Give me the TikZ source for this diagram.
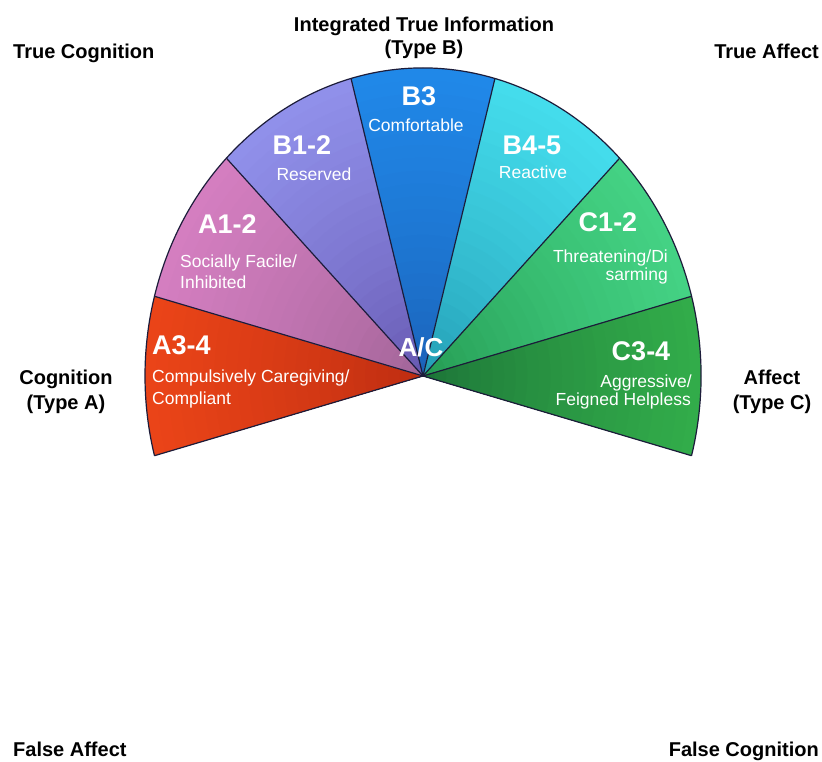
\documentclass[tikz,border=0pt]{standalone}
\usepackage{fontspec}
\setmainfont{Liberation Sans}
\definecolor{edgecol}{HTML}{1C1C3A}
\definecolor{a34i}{HTML}{B82A10}\definecolor{a34o}{HTML}{EA4418}
\definecolor{a12i}{HTML}{9C6294}\definecolor{a12o}{HTML}{D47EC0}
\definecolor{b12i}{HTML}{6252AA}\definecolor{b12o}{HTML}{9090EA}
\definecolor{b3i}{HTML}{1A5EB4}\definecolor{b3o}{HTML}{2088E8}
\definecolor{b45i}{HTML}{2096AE}\definecolor{b45o}{HTML}{44DCEC}
\definecolor{c12i}{HTML}{22964E}\definecolor{c12o}{HTML}{44D284}
\definecolor{c34i}{HTML}{1A6E36}\definecolor{c34o}{HTML}{32AC4A}
\newcommand{\titlefont}{\fontsize{20}{22}\selectfont\bfseries}
\newcommand{\bigfont}{\fontsize{27}{30}\selectfont\bfseries}
\newcommand{\subfont}{\fontsize{17.5}{19}\selectfont}
\begin{document}
\begin{tikzpicture}[x=1pt,y=1pt,
  title/.style={font=\titlefont, text=black, inner sep=0pt},
  big/.style={font=\bigfont, text=white, inner sep=0pt},
  sub/.style={font=\subfont, text=white, inner sep=0pt},
  edge/.style={draw=edgecol, line width=1.2pt, line join=round}]
\useasboundingbox (0,0) rectangle (822,762);
\fill[white] (0,0) rectangle (822,762);
\coordinate (C) at (423,386);
% wedges with radial gradient
\foreach \s/\ci/\co in {165/a34i/a34o,135/a12i/a12o,105/b12i/b12o,75/b3i/b3o,45/b45i/b45o,15/c12i/c12o,-15/c34i/c34o}{
  \foreach \k in {24,23,...,1}{
    \pgfmathsetmacro{\f}{\k/24}
    \pgfmathtruncatemacro{\p}{100*(\k/24)^0.7}
    \fill[\co!\p!\ci] (C) -- ++(\s:{278*\f} and {308*\f}) arc[start angle=\s, end angle=\s+30, x radius={278*\f}, y radius={308*\f}] -- cycle;
  }
}
% edges
\foreach \a in {-15,15,45,75,105,135,165,195}{
  \draw[edge] (C) -- ++(\a:278 and 308);
}
\draw[edge] (C) ++(-15:278 and 308) arc[start angle=-15, end angle=195, x radius=278, y radius=308];
% wedge labels
\node[big, anchor=base west] (a34) at (152,407) {A3-4};
\node[sub, anchor=base west] (a34s1) at (152,379) {Compulsively Caregiving/};
\node[sub, anchor=base west] (a34s2) at (152,357) {Compliant};
\node[big, anchor=base west] (a12) at (198,528) {A1-2};
\node[sub, anchor=base west] (a12s1) at (180,494) {Socially Facile/};
\node[sub, anchor=base west] (a12s2) at (180,473) {Inhibited};
\node[big, anchor=base] (b12) at (302,607) {B1-2};
\node[sub, anchor=base] (b12s) at (314,581) {Reserved};
\node[big, anchor=base] (b3) at (419,656) {B3};
\node[sub, anchor=base] (b3s) at (416,630) {Comfortable};
\node[big, anchor=base] (b45) at (532,607) {B4-5};
\node[sub, anchor=base] (b45s) at (533,583) {Reactive};
\node[big, anchor=base] (c12) at (608,530) {C1-2};
\node[sub, anchor=base east] (c12s1) at (668,499) {Threatening/Di};
\node[sub, anchor=base east] (c12s2) at (668,481) {sarming};
\node[big, anchor=base] (c34) at (641,401) {C3-4};
\node[sub, anchor=base east] (c34s1) at (692,374) {Aggressive/};
\node[sub, anchor=base east] (c34s2) at (691,356) {Feigned Helpless};
\node[font=\fontsize{26}{28}\selectfont\bfseries, text=white, inner sep=0pt, anchor=base] (ac) at (421,405) {A/C};
% outer labels
\node[title, anchor=base] (itiA) at (424,730) {Integrated True Information};
\node[title, anchor=base] (itiB) at (424,707) {(Type B)};
\node[title, anchor=base west] (tc) at (13,703) {True Cognition};
\node[title, anchor=base east] (ta) at (819,703) {True Affect};
\node[title, anchor=base] (cogA) at (66,377) {Cognition};
\node[title, anchor=base] (cogB) at (66,352) {(Type A)};
\node[title, anchor=base] (affA) at (772,377) {Affect};
\node[title, anchor=base] (affB) at (772,352) {(Type C)};
\node[title, anchor=base west] (fa) at (13,5) {False Affect};
\node[title, anchor=base east] (fc) at (819,5) {False Cognition};
\end{tikzpicture}
\end{document}
